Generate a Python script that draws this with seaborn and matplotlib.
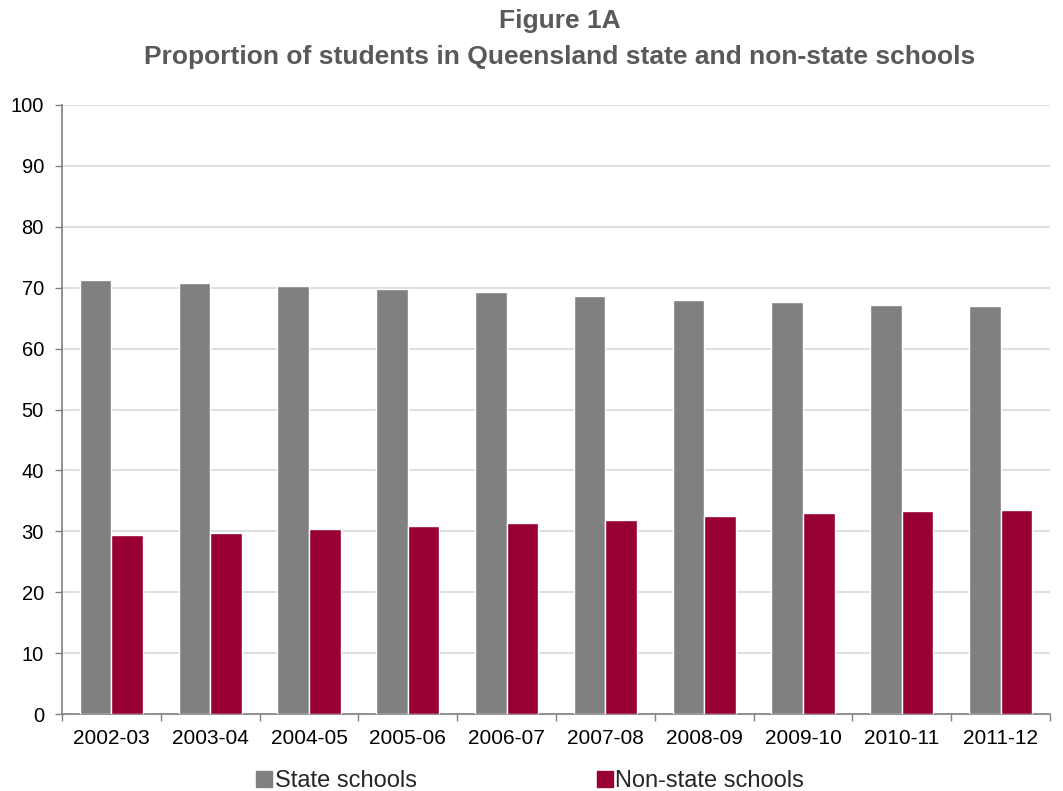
import matplotlib
matplotlib.use("Agg")
import matplotlib.pyplot as plt
import seaborn as sns
import pandas as pd
from matplotlib.ticker import FixedLocator
from matplotlib.lines import Line2D

years = ["2002-03", "2003-04", "2004-05", "2005-06", "2006-07",
         "2007-08", "2008-09", "2009-10", "2010-11", "2011-12"]
state = [71.2, 70.8, 70.3, 69.8, 69.3, 68.6, 68.0, 67.6, 67.2, 67.0]
non_state = [29.4, 29.8, 30.3, 30.8, 31.3, 31.9, 32.5, 33.0, 33.3, 33.5]
series_names = ["State schools", "Non-state schools"]
colors = ["#808080", "#990033"]
yticks = [0, 10, 20, 30, 40, 50, 60, 70, 80, 90, 100]

df = pd.DataFrame({
    "Year": years * 2,
    "Value": state + non_state,
    "Series": [series_names[0]] * len(years) + [series_names[1]] * len(years),
})

sns.set_theme(style="white")
plt.rcParams["font.family"] = ["Liberation Sans", "DejaVu Sans"]

fig = plt.figure(figsize=(10.63, 7.91), dpi=100)
ax = fig.add_axes([62 / 1063, 1 - 714 / 791, (1050 - 62) / 1063, (714 - 105) / 791])

sns.barplot(data=df, x="Year", y="Value", hue="Series", order=years,
            hue_order=series_names, palette=colors, width=0.64,
            saturation=1, ax=ax, legend=True, zorder=3)

ax.set_ylim(0, 100)
ax.set_xlim(-0.5, len(years) - 0.5)
ax.set_yticks(yticks)
ax.set_yticklabels([str(t) for t in yticks], fontsize=14.5, color="#000000")
ax.set_xticks(range(len(years)))
ax.set_xticklabels(years, fontsize=15, color="#000000")
ax.xaxis.set_minor_locator(FixedLocator([i - 0.5 for i in range(len(years) + 1)]))
ax.tick_params(axis="x", which="major", length=0, pad=11)
ax.tick_params(axis="x", which="minor", length=5, color="#808080", width=1, direction="out", bottom=True)
ax.tick_params(axis="y", length=5, color="#808080", width=1, direction="out", left=True, pad=8)
ax.set_xlabel("")
ax.set_ylabel("")

ax.yaxis.grid(True, color="#d9d9d9", linewidth=1.2, zorder=0)
ax.xaxis.grid(False)
ax.set_axisbelow(True)
for s in ["top", "right"]:
    ax.spines[s].set_visible(False)
for s in ["left", "bottom"]:
    ax.spines[s].set_color("#808080")
    ax.spines[s].set_linewidth(1.2)

ax.legend_.remove()
h = [Line2D([0], [0], marker="s", linestyle="none", markersize=11,
            markerfacecolor=c, markeredgecolor=c) for c in colors]
fig.legend(h, series_names, loc="center", bbox_to_anchor=(530 / 1063, 1 - 781 / 791),
           ncol=2, frameon=False, fontsize=17, handletextpad=0.1,
           columnspacing=7.6, handlelength=0.7, borderpad=0)

fig.text(560 / 1063, 1 - 21 / 791, "Figure 1A", ha="center", va="center",
         fontsize=19, fontweight="bold", color="#595959")
fig.text(560 / 1063, 1 - 57 / 791,
         "Proportion of students in Queensland state and non-state schools",
         ha="center", va="center", fontsize=19, fontweight="bold", color="#595959")

fig.savefig("out.png", dpi=100)
